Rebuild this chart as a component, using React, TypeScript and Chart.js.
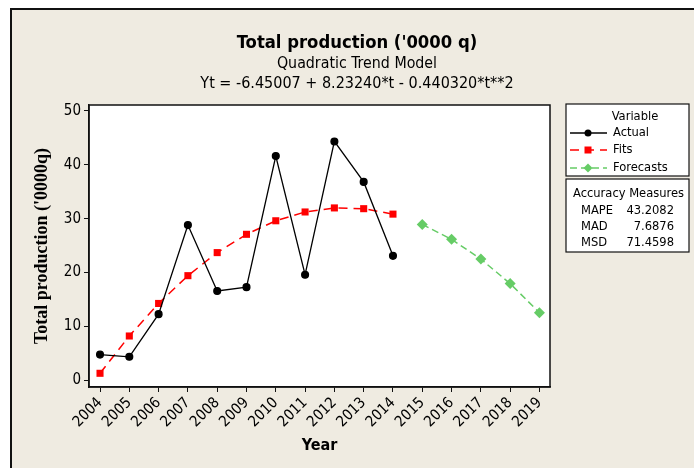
import React, { useEffect, useRef } from "react";
import { Chart, registerables } from "chart.js";

Chart.register(...registerables);

const actualYears = [2004, 2005, 2006, 2007, 2008, 2009, 2010, 2011, 2012, 2013, 2014];
const actualValues = [4.8, 4.4, 12.3, 28.8, 16.6, 17.3, 41.6, 19.6, 44.3, 36.8, 23.1];
const fitValues = [1.34, 8.25, 14.28, 19.43, 23.70, 27.09, 29.60, 31.23, 31.98, 31.84, 30.83];
const forecastYears = [2015, 2016, 2017, 2018, 2019];
const forecastValues = [28.93, 26.16, 22.50, 17.96, 12.55];
const xTickYears = [2004, 2005, 2006, 2007, 2008, 2009, 2010, 2011, 2012, 2013, 2014, 2015, 2016, 2017, 2018, 2019];
const yTickValues = [0, 10, 20, 30, 40, 50];

const titleText = "Total production ('0000 q)";
const subtitleText = "Quadratic Trend Model";
const equationText = "Yt = -6.45007 + 8.23240*t - 0.440320*t**2";
const yTitle = "Total production ('0000q)";
const xTitle = "Year";
const legendTitle = "Variable";
const seriesNames = ["Actual", "Fits", "Forecasts"];
const accuracyHeader = "Accuracy Measures";
const accuracyNames = ["MAPE", "MAD", "MSD"];
const accuracyValues = ["43.2082", "7.6876", "71.4598"];

const SANS = "'DejaVu Sans Condensed', 'DejaVu Sans', sans-serif";
const GREEN = "#66cc66";

const decorPlugin = {
  id: "decor",
  beforeDraw(chart: any) {
    const { ctx, chartArea: a } = chart;
    ctx.save();
    ctx.fillStyle = "#ffffff";
    ctx.fillRect(a.left, a.top, a.right - a.left, a.bottom - a.top);
    ctx.restore();
  },
  afterDraw(chart: any) {
    const { ctx, chartArea: a } = chart;
    ctx.save();
    // plot frame
    ctx.strokeStyle = "#111";
    ctx.lineWidth = 1.5;
    ctx.strokeRect(a.left, a.top, a.right - a.left, a.bottom - a.top);

    // titles
    ctx.fillStyle = "#000";
    ctx.textAlign = "center";
    ctx.textBaseline = "alphabetic";
    const cx = 345;
    ctx.font = `bold 18.3px ${SANS}`;
    ctx.fillText(titleText, cx, 38);
    ctx.font = `15.8px ${SANS}`;
    ctx.fillText(subtitleText, cx, 58);
    ctx.font = `16px ${SANS}`;
    ctx.fillText(equationText, cx, 78);

    // legend box
    ctx.fillStyle = "#ffffff";
    ctx.fillRect(554, 94, 123, 72);
    ctx.fillRect(554, 169, 123, 73);
    ctx.strokeStyle = "#111";
    ctx.lineWidth = 1.2;
    ctx.strokeRect(554, 94, 123, 72);
    ctx.strokeRect(554, 169, 123, 73);

    ctx.fillStyle = "#000";
    ctx.font = `12.8px ${SANS}`;
    ctx.textBaseline = "middle";
    ctx.textAlign = "center";
    ctx.fillText(legendTitle, 623, 107);

    const rows = [123, 140, 158];
    const ds = chart.data.datasets;
    rows.forEach((ry: number, i: number) => {
      const d = ds[i];
      ctx.save();
      ctx.strokeStyle = d.borderColor;
      ctx.lineWidth = d.borderWidth;
      ctx.setLineDash(d.borderDash || []);
      ctx.beginPath();
      ctx.moveTo(558, ry);
      ctx.lineTo(595, ry);
      ctx.stroke();
      ctx.restore();
      ctx.fillStyle = d.pointBackgroundColor;
      ctx.beginPath();
      if (i === 0) {
        ctx.arc(576, ry, 3.5, 0, Math.PI * 2);
      } else if (i === 1) {
        ctx.rect(572.5, ry - 3.5, 7, 7);
      } else {
        ctx.moveTo(576, ry - 4.5);
        ctx.lineTo(580.5, ry);
        ctx.lineTo(576, ry + 4.5);
        ctx.lineTo(571.5, ry);
        ctx.closePath();
      }
      ctx.fill();
      ctx.fillStyle = "#000";
      ctx.textAlign = "left";
      ctx.fillText(seriesNames[i], 601, ry);
    });

    ctx.textAlign = "left";
    ctx.fillText(accuracyHeader, 561, 184);
    const arows = [201, 217, 233];
    arows.forEach((ry: number, i: number) => {
      ctx.textAlign = "left";
      ctx.fillText(accuracyNames[i], 569, ry);
      ctx.textAlign = "right";
      ctx.fillText(accuracyValues[i], 662, ry);
    });
    ctx.restore();
  },
};

export default function App() {
  const ref = useRef<HTMLCanvasElement | null>(null);

  useEffect(() => {
    if (!ref.current) return;
    const chart = new Chart(ref.current, {
      type: "line",
      data: {
        datasets: [
          {
            label: seriesNames[0],
            data: actualYears.map((x, i) => ({ x, y: actualValues[i] })),
            borderColor: "#000000",
            backgroundColor: "#000000",
            pointBackgroundColor: "#000000",
            pointBorderColor: "#000000",
            borderWidth: 1.3,
            pointRadius: 3.4,
            pointStyle: "circle",
            tension: 0,
          },
          {
            label: seriesNames[1],
            data: actualYears.map((x, i) => ({ x, y: fitValues[i] })),
            borderColor: "#ff0000",
            backgroundColor: "#ff0000",
            pointBackgroundColor: "#ff0000",
            pointBorderColor: "#ff0000",
            borderWidth: 1.5,
            borderDash: [9, 6],
            pointRadius: 5,
            pointBorderWidth: 0,
            pointStyle: "rect",
            tension: 0,
          },
          {
            label: seriesNames[2],
            data: forecastYears.map((x, i) => ({ x, y: forecastValues[i] })),
            borderColor: GREEN,
            backgroundColor: GREEN,
            pointBackgroundColor: GREEN,
            pointBorderColor: GREEN,
            borderWidth: 1.5,
            borderDash: [7, 4],
            pointRadius: 5.5,
            pointBorderWidth: 0,
            pointStyle: "rectRot",
            tension: 0,
          },
        ],
      },
      options: {
        animation: false,
        responsive: false,
        maintainAspectRatio: false,
        devicePixelRatio: 1,
        layout: { padding: { left: 0, top: 95, right: 144, bottom: 0 } },
        plugins: {
          legend: { display: false },
          title: { display: false },
          tooltip: { enabled: false },
        },
        scales: {
          x: {
            type: "linear",
            min: 2003.624,
            max: 2019.36,
            afterBuildTicks: (s: any) => {
              s.ticks = xTickYears.map((v) => ({ value: v }));
            },
            afterFit: (s: any) => {
              s.height = 81;
            },
            ticks: {
              autoSkip: false,
              minRotation: 45,
              maxRotation: 45,
              padding: 2,
              color: "#000",
              font: { family: SANS, size: 15 },
              callback: (v: any) => String(v),
            },
            grid: {
              display: true,
              drawOnChartArea: false,
              drawTicks: true,
              tickLength: 5,
              color: "#111",
              lineWidth: 1,
            },
            border: { display: true, color: "#111", width: 1.5 },
            title: {
              display: true,
              text: xTitle,
              color: "#000",
              font: { family: SANS, size: 16, weight: "bold" },
              padding: { top: 0, bottom: 13 },
            },
          },
          y: {
            type: "linear",
            min: -1.2,
            max: 51.05,
            afterBuildTicks: (s: any) => {
              s.ticks = yTickValues.map((v) => ({ value: v }));
            },
            afterFit: (s: any) => {
              s.width = 77;
            },
            ticks: {
              padding: 3,
              color: "#000",
              font: { family: SANS, size: 15 },
            },
            grid: {
              display: true,
              drawOnChartArea: false,
              drawTicks: true,
              tickLength: 5,
              color: "#111",
              lineWidth: 1,
            },
            border: { display: true, color: "#111", width: 1.5 },
            title: {
              display: true,
              text: yTitle,
              color: "#000",
              font: { family: "'Liberation Serif', 'DejaVu Serif', serif", size: 18, weight: "bold" },
              padding: { top: 20, bottom: 0 },
            },
          },
        },
      },
      plugins: [decorPlugin],
    } as any);
    return () => chart.destroy();
  }, []);

  return (
    <div
      style={{
        position: "fixed",
        left: 10,
        top: 8,
        right: 0,
        bottom: 0,
        background: "#efebe1",
        borderLeft: "2px solid #111",
        borderTop: "2px solid #111",
        overflow: "hidden",
      }}
    >
      <canvas ref={ref} width={682} height={458} style={{ display: "block", width: 682, height: 458 }} />
    </div>
  );
}
